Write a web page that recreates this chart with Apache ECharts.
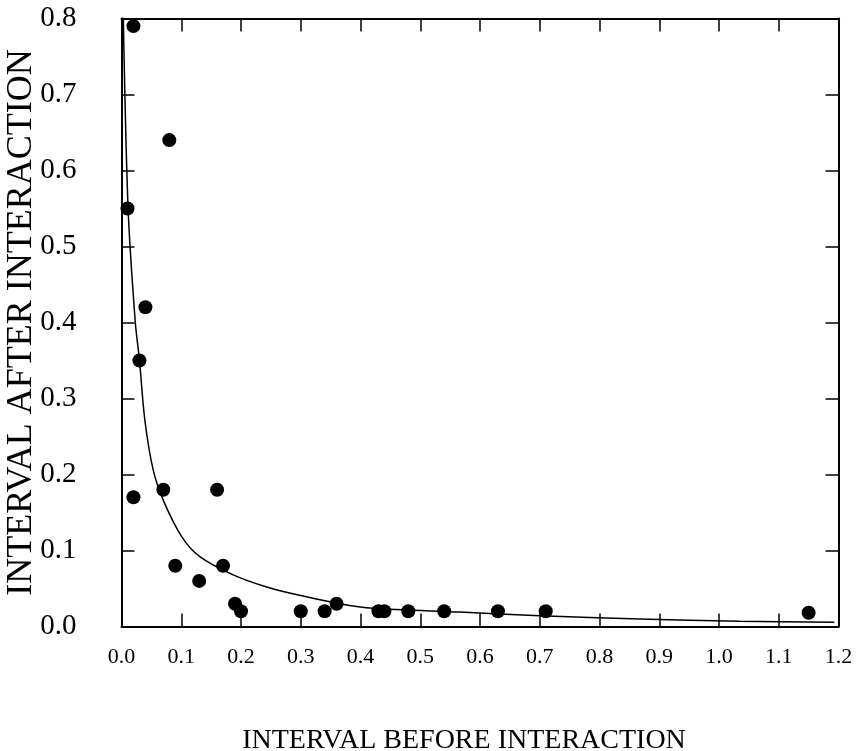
<!DOCTYPE html>
<html>
<head>
<meta charset="utf-8">
<script src="https://cdn.jsdelivr.net/npm/echarts@6/dist/echarts.min.js"></script>
<style>
html,body{margin:0;padding:0;background:#fff;}
#chart{width:856px;height:751px;}
</style>
</head>
<body>
<div id="chart"></div>
<script>
// Observed data points (interval before, interval after)
const beforeValues = [0.02, 0.01, 0.08, 0.04, 0.03, 0.02, 0.07, 0.16, 0.09, 0.17, 0.13, 0.19, 0.20, 0.30, 0.34, 0.36, 0.43, 0.44, 0.48, 0.54, 0.63, 0.71, 1.15];
const afterValues  = [0.79, 0.55, 0.64, 0.42, 0.35, 0.17, 0.18, 0.18, 0.08, 0.08, 0.06, 0.03, 0.02, 0.02, 0.02, 0.03, 0.02, 0.02, 0.02, 0.02, 0.02, 0.02, 0.018];

// Fitted curve, points
const curveX = [0.003, 0.011, 0.023, 0.030, 0.039, 0.053, 0.070, 0.101, 0.131, 0.187, 0.243, 0.298, 0.365, 0.421, 0.566, 0.700, 0.867, 1.034, 1.193];
const curveY = [0.802, 0.551, 0.401, 0.351, 0.272, 0.206, 0.166, 0.118, 0.092, 0.068, 0.052, 0.041, 0.030, 0.024, 0.019, 0.014, 0.010, 0.007, 0.0055];

const xTicks = ['0.0','0.1','0.2','0.3','0.4','0.5','0.6','0.7','0.8','0.9','1.0','1.1','1.2'];
const yTicks = ['0.0','0.1','0.2','0.3','0.4','0.5','0.6','0.7','0.8'];

const xTitle = 'INTERVAL BEFORE INTERACTION';
const yTitle = 'INTERVAL AFTER INTERACTION';

const serif = 'Liberation Serif';
const axisLine = {show: true, onZero: false, lineStyle: {color: '#000', width: 2}};
const tick = {show: true, inside: true, length: 13, lineStyle: {color: '#000', width: 1.5}};

const chart = echarts.init(document.getElementById('chart'));
chart.setOption({
  animation: false,
  backgroundColor: '#fff',
  grid: {left: 121.5, right: 17.5, top: 18.5, bottom: 124.5, containLabel: false, outerBoundsMode: 'none'},
  xAxis: [
    {type: 'value', min: 0, max: 1.2, interval: 0.1, position: 'bottom',
     axisLine: axisLine, axisTick: tick, splitLine: {show: false},
     axisLabel: {show: true, margin: 20, color: '#000', fontFamily: serif, fontSize: 22,
       formatter: v => xTicks[Math.round(v * 10)]},
     name: xTitle, nameLocation: 'middle', nameGap: 100, nameMoveOverlap: false,
     nameTextStyle: {color: '#000', fontFamily: serif, fontSize: 28, padding: [0, 32, 0, 0]}},
    {type: 'value', min: 0, max: 1.2, interval: 0.1, position: 'top',
     axisLine: axisLine, axisTick: tick, splitLine: {show: false}, axisLabel: {show: false}}
  ],
  yAxis: [
    {type: 'value', min: 0, max: 0.8, interval: 0.1, position: 'left',
     axisLine: axisLine, axisTick: tick, splitLine: {show: false},
     axisLabel: {show: true, margin: 45, color: '#000', fontFamily: serif, fontSize: 29,
       formatter: v => yTicks[Math.round(v * 10)]},
     name: yTitle, nameLocation: 'middle', nameGap: 82, nameRotate: 90, nameMoveOverlap: false,
     nameTextStyle: {color: '#000', fontFamily: serif, fontSize: 36}},
    {type: 'value', min: 0, max: 0.8, interval: 0.1, position: 'right',
     axisLine: axisLine, axisTick: tick, splitLine: {show: false}, axisLabel: {show: false}}
  ],
  series: [
    {type: 'line', xAxisIndex: 0, yAxisIndex: 0, smooth: 0.3, showSymbol: false,
     lineStyle: {color: '#000', width: 1.5},
     data: curveX.map((x, i) => [x, curveY[i]]), z: 2},
    {type: 'scatter', xAxisIndex: 0, yAxisIndex: 0, symbol: 'circle', symbolSize: 14,
     itemStyle: {color: '#000', opacity: 1},
     data: beforeValues.map((x, i) => [x, afterValues[i]]), z: 3}
  ]
});
</script>
</body>
</html>
